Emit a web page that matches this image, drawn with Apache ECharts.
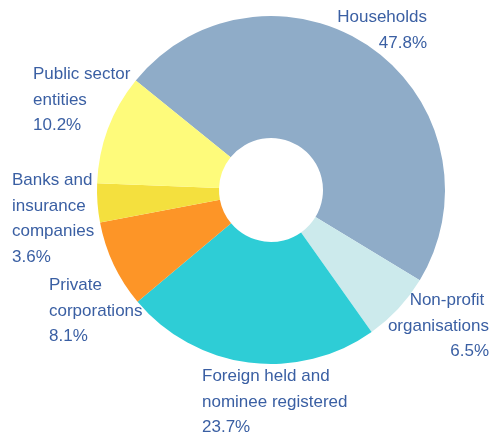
<!DOCTYPE html>
<html>
<head>
<meta charset="utf-8">
<script src="https://cdn.jsdelivr.net/npm/echarts@6/dist/echarts.min.js"></script>
<style>
  html, body { margin: 0; padding: 0; background: #fff; }
  #chart { width: 493px; height: 436px; }
</style>
</head>
<body>
<div id="chart"></div>
<script>
// Ownership shares, clockwise from the upper-left edge of Households
var sectors = ['Households', 'Non-profit \norganisations', 'Foreign held and\nnominee registered',
  'Private\ncorporations', 'Banks and\ninsurance\ncompanies', 'Public sector\nentities'];
var shares = [47.8, 6.5, 23.7, 8.1, 3.6, 10.2];
var colors = ['#8facc8', '#cceaec', '#2ecdd6', '#fd9527', '#f4e03e', '#fefb7b'];

// Label anchors (x, top y, alignment) per slice
var labelSpots = [
  { x: 427, y: 5, align: 'right' },
  { x: 489, y: 288, align: 'right' },
  { x: 202, y: 364, align: 'left' },
  { x: 49, y: 273, align: 'left' },
  { x: 12, y: 168, align: 'left' },
  { x: 33, y: 62, align: 'left' }
];

var chart = echarts.init(document.getElementById('chart'), null, { renderer: 'canvas' });

chart.setOption({
  backgroundColor: '#ffffff',
  animation: false,
  series: [{
    type: 'pie',
    center: [271, 190],
    radius: [52, 174],
    startAngle: 141,
    clockwise: true,
    silent: true,
    itemStyle: { borderWidth: 0 },
    label: {
      show: true,
      color: '#3a5fa3',
      fontFamily: 'Liberation Sans, Arial, sans-serif',
      fontSize: 17,
      lineHeight: 25.5,
      overflow: 'none',
      formatter: function (p) { return p.name + '\n' + p.value.toFixed(1) + '%'; }
    },
    labelLine: { show: false },
    labelLayout: function (p) {
      var s = labelSpots[p.dataIndex];
      return { x: s.x, y: s.y, align: s.align, verticalAlign: 'top', hideOverlap: false };
    },
    data: sectors.map(function (name, i) {
      return {
        name: name,
        value: shares[i],
        itemStyle: { color: colors[i] },
        label: { align: labelSpots[i].align }
      };
    })
  }]
});
</script>
</body>
</html>
